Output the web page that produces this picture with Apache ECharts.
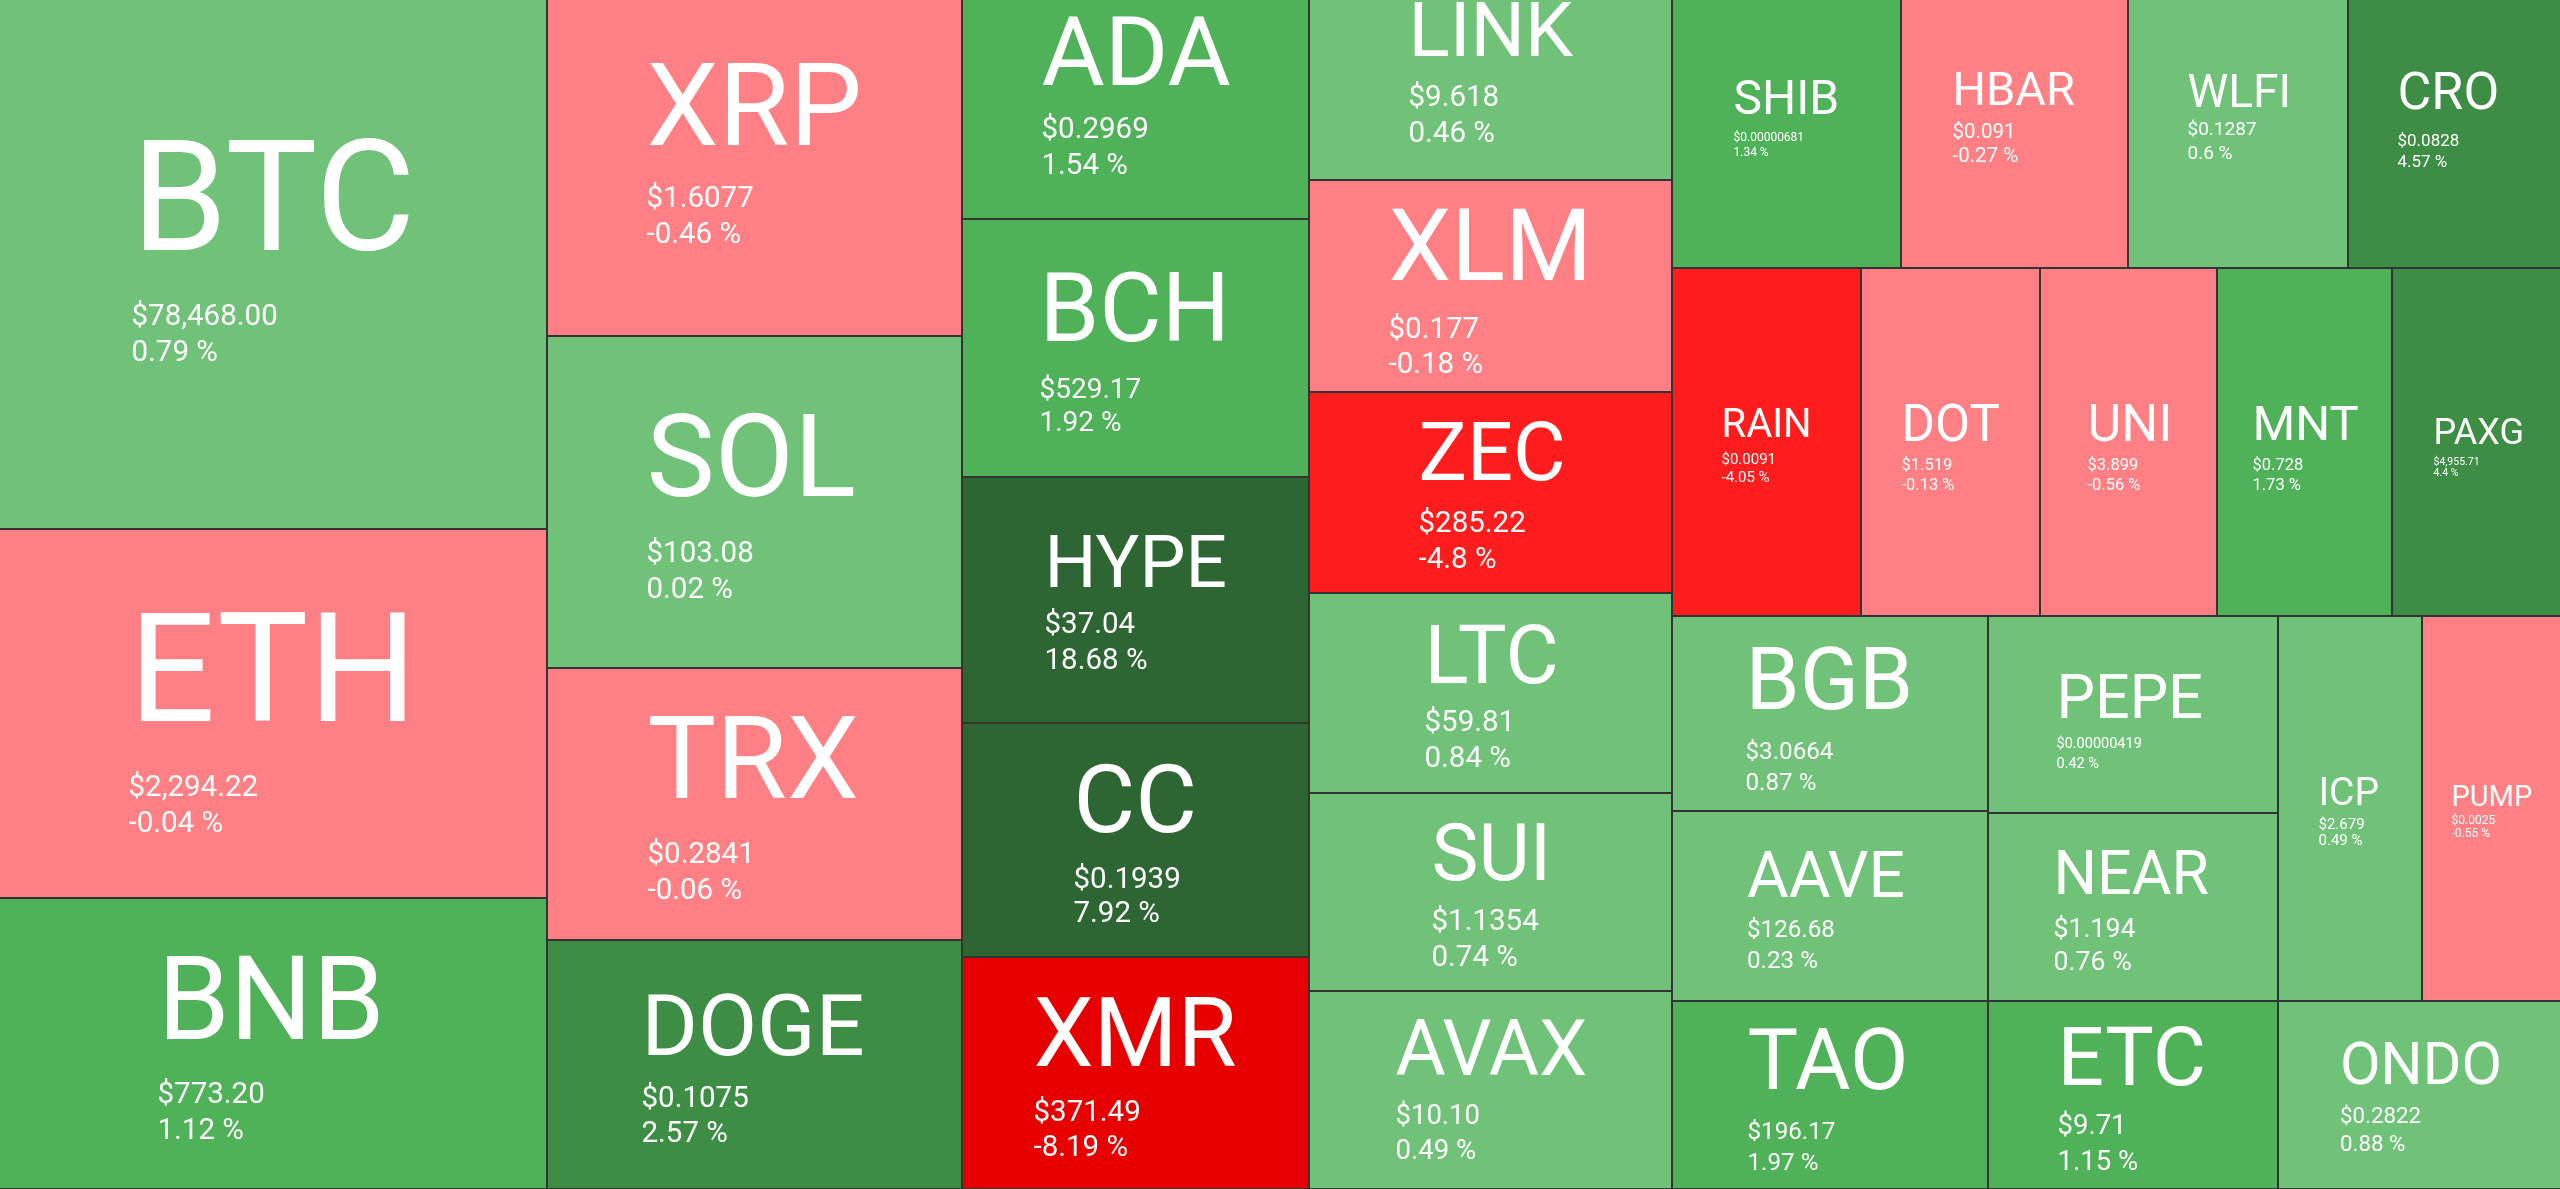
<!DOCTYPE html>
<html><head><meta charset="utf-8">
<style>html,body{margin:0;padding:0;background:#333;overflow:hidden}#chart{width:2560px;height:1189px}</style>
<script src="https://cdn.jsdelivr.net/npm/echarts@6/dist/echarts.min.js"></script>
</head><body><div id="chart"></div>
<script>
const symbols = ['BTC','ETH','BNB','XRP','SOL','TRX','DOGE','ADA','BCH','HYPE','CC','XMR','LINK','XLM','ZEC','LTC','SUI','AVAX','SHIB','HBAR','WLFI','CRO','RAIN','DOT','UNI','MNT','PAXG','BGB','AAVE','TAO','PEPE','NEAR','ICP','PUMP','ETC','ONDO'];
const sizes = [290440,202212,159468,139855,137780,112880,103335,76340,89526,85362,81198,80504,65703,76956,72963,72600,71874,71874,61601,61063,59180,57297,65772,62292,61596,60900,58812,61620,60040,59408,57130,54520,55440,53515,54520,53204];
const prices = ['$78,468.00','$2,294.22','$773.20','$1.6077','$103.08','$0.2841','$0.1075','$0.2969','$529.17','$37.04','$0.1939','$371.49','$9.618','$0.177','$285.22','$59.81','$1.1354','$10.10','$0.00000681','$0.091','$0.1287','$0.0828','$0.0091','$1.519','$3.899','$0.728','$4,955.71','$3.0664','$126.68','$196.17','$0.00000419','$1.194','$2.679','$0.0025','$9.71','$0.2822'];
const changes = [0.79,-0.04,1.12,-0.46,0.02,-0.06,2.57,1.54,1.92,18.68,7.92,-8.19,0.46,-0.18,-4.8,0.84,0.74,0.49,1.34,-0.27,0.6,4.57,-4.05,-0.13,-0.56,1.73,4.4,0.87,0.23,1.97,0.42,0.76,0.49,-0.55,1.15,0.88];

// How the tiles nest (each level splits across its longer side)
const nesting = [
  ['BTC','ETH','BNB'],
  ['XRP','SOL','TRX','DOGE'],
  ['ADA','BCH','HYPE','CC','XMR'],
  ['LINK','XLM','ZEC','LTC','SUI','AVAX'],
  [
    ['SHIB','HBAR','WLFI','CRO'],
    [['RAIN','DOT','UNI','MNT'],'PAXG'],
    [
      ['BGB','AAVE','TAO'],
      [
        [[['PEPE','NEAR'],'ICP'],'PUMP'],
        ['ETC','ONDO']
      ]
    ]
  ]
];

// Label styling per tile: left, symbol / price / percent line centres (from tile corner), symbol size, price size
const labelStyle = {
  BTC:[133,200,314,350,154,29.5], ETH:[130,142,255,291,153,29.5], BNB:[159,101,193,229,116,29.5],
  XRP:[100,107,196,232,115,29.5], SOL:[100,121,214,250,115,29.5], TRX:[101,91,183,219,115,29.5], DOGE:[95,84,155,190,86,29.5],
  ADA:[80,52,127,163,97,29.5], BCH:[78,88,167,200,96,28], HYPE:[83,83,144,180,73,29.5], CC:[112,75,153,187,95,29.5], XMR:[72,75,152,187,96,29.5],
  LINK:[100,29,95,131,76.5,29.5], XLM:[80,65,146,181,100,29.5], ZEC:[110,59,128,164,81,29.5], LTC:[116,60,126,162,82,29.5], SUI:[123,58,125,161,79,29.5], AVAX:[87,56,122,157,77,27.5],
  SHIB:[62,95,134,149,48,12], HBAR:[52,86,129,153,47,20.5], WLFI:[60,89,127,151,46,19], CRO:[50,89,138,159,52,17],
  RAIN:[50,151,188,206,40,15], DOT:[41,152,193,213,51,16.5], UNI:[48,152,193,213,52,16.5], MNT:[36,152,193,213,49,16.5], PAXG:[42,160,190,201,36,10.5],
  BGB:[74,62,132.5,163.5,87,24.2], AAVE:[75.5,61,115,146,64,24.2], TAO:[76,57,127.5,158.5,85,24.2],
  PEPE:[69,78,124,144,61,14.5], NEAR:[66,57,112.5,145.5,61,26.7],
  ICP:[41,171.5,204.5,220.5,39,15], PUMP:[30,176,200,213,29,12],
  ETC:[70,54,121.5,157.5,82,27.5], ONDO:[62.5,60,111.5,139.5,59,22.3]
};

function tileColor(c){
  if (c <= -8) return '#e60000';
  if (c <= -2) return '#ff1c1c';
  if (c < 0) return '#ff8084';
  if (c < 1) return '#70c278';
  if (c < 2) return '#4fb158';
  if (c < 5) return '#3d8d45';
  return '#2d6632';
}

function leaf(name){
  const i = symbols.indexOf(name);
  const [left, cs0, cp0, cq0, sf, pf] = labelStyle[name];
  const cs = cs0 + 0.04 * sf, cp = cp0 - 1.5, cq = cq0 - 1.5;
  const lh = cq - cp;
  const h1 = 2 * (cp - cs) - lh;
  return {
    name, value: sizes[i],
    itemStyle: {color: tileColor(changes[i]), borderColor: '#333', borderWidth: 1, gapWidth: 0},
    label: {
      show: true, position: 'insideTopLeft', distance: 0, overflow: 'none',
      offset: [left - 6.5, cs - h1 / 2],
      formatter: '{s|' + name + '}\n{p|' + prices[i] + '}\n{p|' + changes[i] + ' %}',
      rich: {
        s: {fontFamily: 'Roboto', fontSize: sf, lineHeight: h1, color: '#fff', align: 'left'},
        p: {fontFamily: 'Roboto', fontSize: pf, lineHeight: lh, color: '#fff', align: 'left'}
      }
    }
  };
}
function build(n){
  if (typeof n === 'string') return leaf(n);
  return {name: '', itemStyle: {borderWidth: 0, gapWidth: 0}, upperLabel: {show: false}, children: n.map(build)};
}

const chart = echarts.init(document.getElementById('chart'), null, {renderer: 'canvas'});
chart.setOption({
  animation: false,
  backgroundColor: '#333',
  tooltip: {show: false},
  series: [{
    type: 'treemap',
    left: -1, top: -1,
    width: 2562, height: 1190,
    sort: false,
    squareRatio: 1e-6,
    roam: false,
    nodeClick: false,
    visibleMin: 0,
    breadcrumb: {show: false},
    itemStyle: {borderWidth: 0, gapWidth: 0},
    upperLabel: {show: false},
    emphasis: {disabled: true},
    data: nesting.map(build)
  }]
});
</script></body></html>
